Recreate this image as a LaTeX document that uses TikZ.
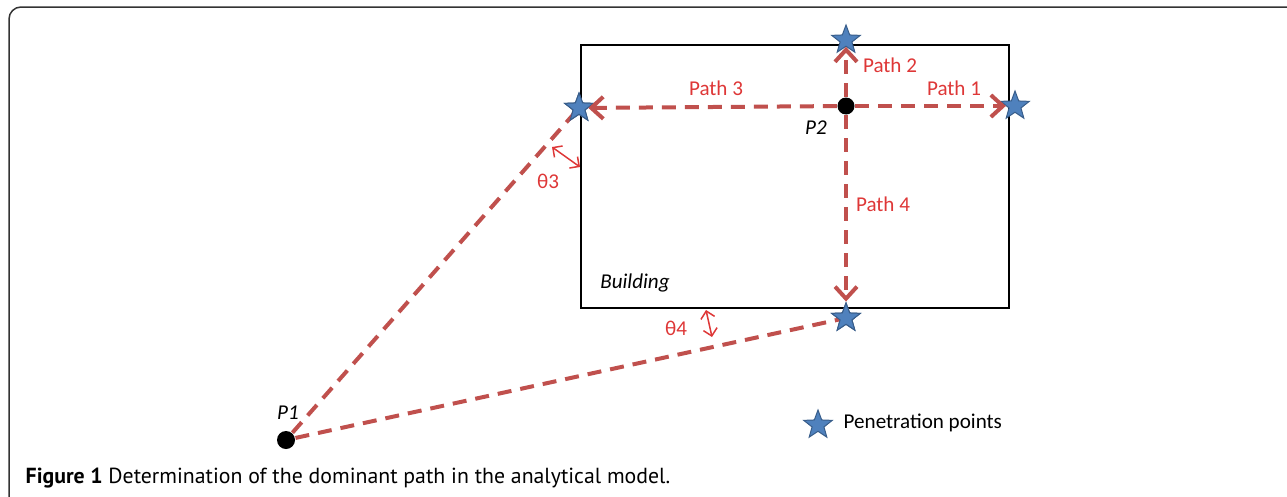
\documentclass[tikz,border=0pt]{standalone}
\usepackage{fontspec}
\setmainfont{Carlito}
\newfontfamily\capfont{PT Sans}
\usetikzlibrary{shapes.geometric,arrows.meta}

\definecolor{pathred}{RGB}{192,80,77}
\definecolor{labelred}{RGB}{222,55,55}
\definecolor{starblue}{RGB}{79,129,189}
\definecolor{stardark}{RGB}{56,93,138}

\tikzset{
  penstar/.style={star, star points=5, star point ratio=2.4, fill=starblue,
    draw=stardark, line width=0.1mm, minimum size=3mm, inner sep=0pt},
  blackdot/.style={circle, fill=black, minimum size=1.7mm, inner sep=0pt},
  pathline/.style={draw=pathred, line width=0.4mm, dash pattern=on 1.4mm off 0.9mm},
  patharrow/.style={pathline, -{Straight Barb[length=1.2mm, width=2.2mm]}},
  anglearrow/.style={draw=labelred, line width=0.15mm,
    {Straight Barb[length=0.7mm, width=1.4mm]}-{Straight Barb[length=0.7mm, width=1.4mm]}},
  redlabel/.style={text=labelred, font=\fontsize{6}{7.2}\selectfont, inner sep=0pt},
  blacklabel/.style={font=\fontsize{6}{7.2}\selectfont\itshape, inner sep=0pt},
}

\begin{document}
\begin{tikzpicture}[x=0.1mm, y=-0.1mm]
  \useasboundingbox (0,0) rectangle (1287,496);
  \clip (0,0) rectangle (1287,496);

  % frame
  \draw[line width=0.15mm, black!80, rounded corners=1.2mm] (9,520) -- (9,7) -- (1300,7);

  % building
  \draw[line width=0.2mm] (581,45) rectangle (1009,308);
  \node[blacklabel] (building) at (635,283) {Building};

  % points and penetration points
  \node[blackdot] (p2) at (846,106) {};
  \node[blackdot, minimum size=1.8mm] (p1) at (286,440) {};
  \node[penstar] (sTop) at (846,40) {};
  \node[penstar] (sLeft) at (579,108) {};
  \node[penstar] (sRight) at (1015,106) {};
  \node[penstar] (sBottom) at (846,318) {};

  % paths from P1
  \draw[pathline] (p1) -- (sLeft.center);
  \draw[pathline] (p1) -- (sBottom.center);
  \node[penstar] at (sLeft) {};
  \node[penstar] at (sBottom) {};

  % paths from P2
  \draw[patharrow] (p2) -- (sRight);
  \draw[patharrow] (p2) -- (sTop);
  \draw[patharrow] (p2) -- (sLeft);
  \draw[patharrow] (p2) -- (sBottom);

  % angles
  \coordinate (t3a) at (552,147);
  \coordinate (t3b) at (580,167);
  \coordinate (t4a) at (706,310);
  \coordinate (t4b) at (712,337);
  \draw[anglearrow] (t3a) -- (t3b);
  \draw[anglearrow] (t4a) -- (t4b);

  % labels
  \node[redlabel] (lPath1) at (954,88) {Path 1};
  \node[redlabel] (lPath2) at (890,65) {Path 2};
  \node[redlabel] (lPath3) at (716,88) {Path 3};
  \node[redlabel] (lPath4) at (883,204) {Path 4};
  \node[redlabel] (lTheta3) at (548,181) {θ3};
  \node[redlabel] (lTheta4) at (676,328) {θ4};
  \node[blacklabel] (lP2) at (816,128) {P2};
  \node[blacklabel] (lP1) at (288,413) {P1};

  % legend
  \node[penstar] (legStar) at (818,425) {};
  \node[anchor=west, inner sep=0pt, font=\fontsize{6}{7.2}\selectfont] (legText) at (843,423) {Penetration points};

  % caption
  \node[anchor=base west, inner sep=0pt, font=\capfont\fontsize{6.2}{7.4}\selectfont] (caption) at (25,483)
    {\textbf{Figure 1} Determination of the dominant path in the analytical model.};
\end{tikzpicture}
\end{document}
